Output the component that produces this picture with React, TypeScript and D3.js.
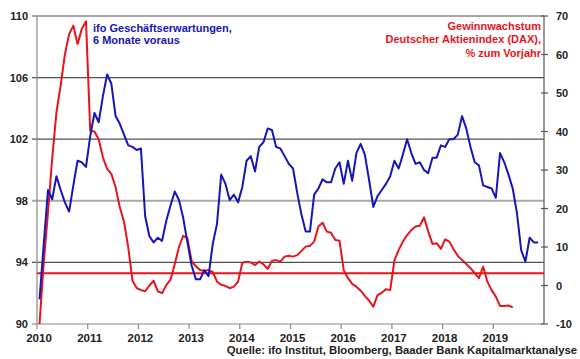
import React from "react";
import * as d3 from "d3";

// Monthly data starting Jan 2010
const ifoExpectations: number[] = [
  91.6, 95.2, 98.7, 98.1, 99.6, 98.7, 97.9, 97.3, 99.0, 100.6, 100.5, 100.2,
  102.2, 103.7, 103.1, 104.8, 106.2, 105.6, 103.5, 103.0, 102.3, 101.6, 101.5, 101.3,
  101.4, 97.0, 95.7, 95.3, 95.6, 95.4, 96.7, 97.7, 98.6, 98.05, 96.9, 95.3,
  93.8, 92.9, 92.9, 93.5, 93.1, 95.2, 96.5, 99.7, 99.1, 98.05, 98.4, 97.9,
  98.9, 100.6, 100.9, 99.9, 101.5, 101.8, 102.7, 102.6, 101.5, 101.4, 100.9, 100.4,
  100.1, 98.5, 97.1, 96.0, 96.0, 98.4, 98.8, 99.4, 99.2, 99.2, 100.1, 100.5,
  99.1, 100.6, 99.3, 101.1, 101.7, 101.0, 99.35, 97.6, 98.3, 98.7, 99.1, 99.6,
  100.6, 100.1, 101.0, 102.0, 101.1, 100.4, 100.5, 100.0, 99.8, 100.8, 100.8, 101.6,
  101.5, 102.0, 102.0, 102.3, 103.5, 102.7, 101.5, 100.5, 100.3, 99.0, 98.9, 98.8,
  98.2, 101.1, 100.5, 99.7, 98.8, 97.2, 94.8, 94.05, 95.6, 95.3, 95.3,
];

const daxEarningsGrowth: number[] = [
  -10, 6, 19, 33, 45, 52, 60, 65.3, 67.5, 62.7, 66.6, 68.6,
  40.2, 40.0, 38.0, 33.3, 30.3, 29.0, 25.5, 20.3, 16.5, 9.9, 1.25, -0.65,
  -1.2, -1.5, 0.0, 1.25, -1.5, -2.0, 0.1, 1.5, 5.5, 10.0, 12.9, 12.3,
  6.3, 5.0, 4.0, 3.8, 4.0, 3.5, 1.0, 0.2, -0.1, -0.7, -0.3, 1.0,
  5.9, 6.2, 6.0, 5.3, 6.2, 5.5, 4.3, 6.4, 6.6, 6.2, 7.5, 7.7,
  7.5, 7.9, 9.0, 10.1, 10.3, 11.4, 15.3, 16.3, 14.0, 13.7, 11.8, 11.6,
  4.0, 1.9, 0.4, -0.3, -1.35, -2.7, -3.95, -5.5, -2.5, -1.9, -1.0, -1.2,
  6.6, 9.2, 11.4, 13.1, 14.4, 15.3, 15.5, 17.7, 14.0, 10.8, 11.0, 9.5,
  12.0, 11.4, 9.4, 7.7, 6.6, 5.6, 4.5, 3.2, 1.9, 4.9, 1.0, -1.2,
  -2.9, -5.3, -5.3, -5.2, -5.7,
];

const daxAverage = 3.2;

const yearTicks = [2010, 2011, 2012, 2013, 2014, 2015, 2016, 2017, 2018, 2019];
const leftTicks = [90, 94, 98, 102, 106, 110];
const rightTicks = [-10, 0, 10, 20, 30, 40, 50, 60, 70];

const blueLabel = ["ifo Geschäftserwartungen,", "6 Monate voraus"];
const redLabel = ["Gewinnwachstum", "Deutscher Aktienindex (DAX),", "% zum Vorjahr"];
const sourceText = "Quelle: ifo Institut, Bloomberg, Baader Bank Kapitalmarktanalyse";

const W = 580;
const H = 359;
const L = 37;
const R = 544;
const T = 16;
const B = 324;

const BLUE = "#1515b8";
const RED = "#e8141c";
const FONT = "'Liberation Sans', Arial, sans-serif";

export default function App() {
  const x = d3.scaleLinear().domain([2010, 2020]).range([L, R]);
  const yL = d3.scaleLinear().domain([90, 110]).range([B, T]);
  const yR = d3.scaleLinear().domain([-10, 70]).range([B, T]);
  const mx = (i: number) => x(2010 + (i + 0.6) / 12);

  const blueLine = d3
    .line<number>()
    .x((_, i) => mx(i))
    .y((d) => yL(d))(ifoExpectations) as string;
  const redLine = d3
    .line<number>()
    .x((_, i) => mx(i))
    .y((d) => yR(d))(daxEarningsGrowth) as string;

  return (
    <svg
      width={W}
      height={H}
      style={{ position: "absolute", left: 0, top: 0, background: "#fff" }}
      fontFamily={FONT}
    >
      <rect x={0} y={0} width={W} height={H} fill="#fff" />
      {/* gridlines */}
      {leftTicks
        .filter((t) => t !== 90)
        .map((t) => (
          <line
            key={"g" + t}
            x1={L - 5}
            x2={R}
            y1={yL(t)}
            y2={yL(t)}
            stroke={t === 98 ? "#a8a8a8" : "#505050"}
            strokeWidth={t === 98 ? 2 : 1.2}
          />
        ))}
      {/* axes */}
      <line x1={L} x2={L} y1={T} y2={B} stroke="#888" strokeWidth={1.2} />
      <line x1={L} x2={R} y1={B} y2={B} stroke="#888" strokeWidth={1.2} />
      <line x1={R} x2={R} y1={T} y2={B} stroke="#555" strokeWidth={1.2} />
      <line x1={L - 5} x2={L} y1={B} y2={B} stroke="#888" strokeWidth={1.2} />
      {yearTicks.map((t) => (
        <line key={"xt" + t} x1={x(t)} x2={x(t)} y1={B} y2={B + 5} stroke="#888" strokeWidth={1.2} />
      ))}
      {rightTicks.map((t) => (
        <line key={"rt" + t} x1={R - 3} x2={R + 4} y1={yR(t)} y2={yR(t)} stroke="#555" strokeWidth={1.2} />
      ))}
      {/* labels */}
      {leftTicks.map((t) => (
        <text key={"lt" + t} x={28} y={yL(t) + 4} textAnchor="end" fontSize={11} fontWeight="bold" fill="#222">
          {t}
        </text>
      ))}
      {rightTicks.map((t) => (
        <text key={"rl" + t} x={556} y={yR(t) + 4} textAnchor="start" fontSize={11} fontWeight="bold" fill="#222">
          {t}
        </text>
      ))}
      {yearTicks.map((t) => (
        <text key={"yl" + t} x={x(t) + 2} y={341.5} textAnchor="middle" fontSize={11.5} fontWeight="bold" fill="#222">
          {t}
        </text>
      ))}
      {/* average line */}
      <line x1={L} x2={R} y1={yR(daxAverage)} y2={yR(daxAverage)} stroke={RED} strokeWidth={2} />
      {/* series */}
      <path d={redLine} fill="none" stroke={RED} strokeWidth={2} strokeLinejoin="round" />
      <path d={blueLine} fill="none" stroke={BLUE} strokeWidth={2} strokeLinejoin="round" />
      {/* series labels */}
      {blueLabel.map((s, i) => (
        <text key={"bl" + i} x={93} y={32 + i * 12.3} fontSize={11} fontWeight="bold" fill={BLUE}>
          {s}
        </text>
      ))}
      {redLabel.map((s, i) => (
        <text key={"rdl" + i} x={541} y={29.5 + i * 13.5} textAnchor="end" fontSize={11} fontWeight="bold" fill={RED}>
          {s}
        </text>
      ))}
      <text x={577} y={354} textAnchor="end" fontSize={11.3} fontWeight="bold" fill="#222">
        {sourceText}
      </text>
    </svg>
  );
}
